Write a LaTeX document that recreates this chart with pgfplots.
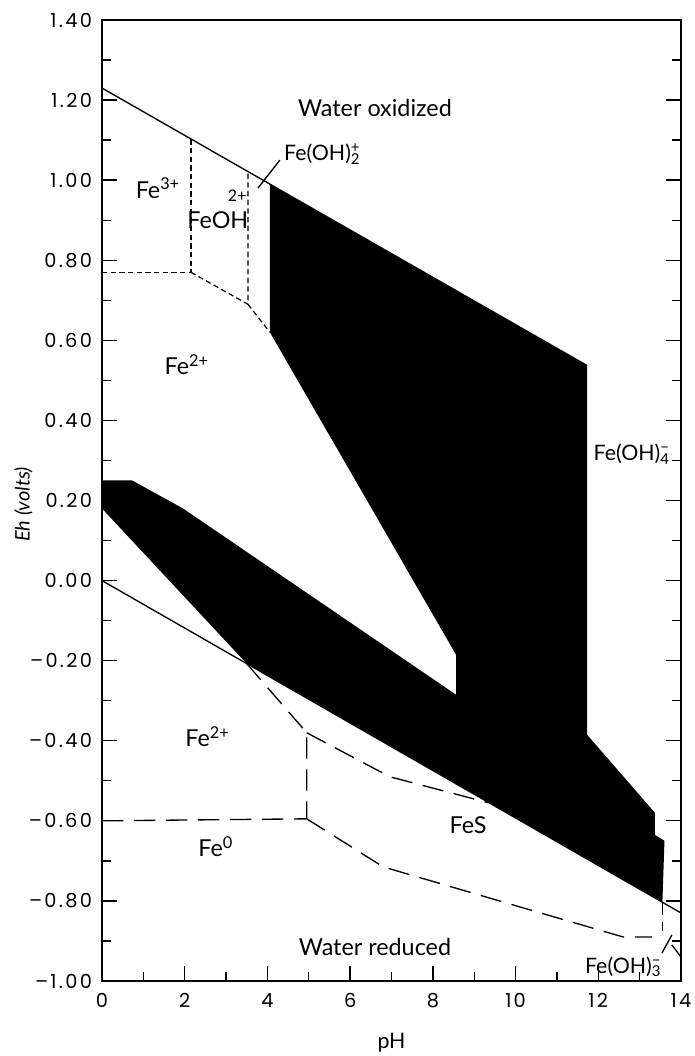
\documentclass[border=0pt]{standalone}
\usepackage{fontspec}
\setmainfont{Lato}
\newfontfamily\tickfont[LetterSpace=12]{Poppins}
\usepackage{pgfplots}
\pgfplotsset{compat=1.18}
\newcommand{\supsub}[2]{\makebox[0pt][l]{\textsuperscript{#2}}\textsubscript{#1}}
\begin{document}
\begin{tikzpicture}
\useasboundingbox (-76.5pt,-56.25pt) rectangle (444pt,735.75pt);
\begin{axis}[
  at={(0,0)}, anchor=south west,
  scale only axis, width=434.25pt, height=720.75pt,
  xmin=0, xmax=14, ymin=-1, ymax=1.4,
  clip=false,
  axis line style={line width=1.3pt},
  xtick={0,2,4,6,8,10,12,14},
  minor xtick={1,3,5,7,9,11,13},
  ytick={-1,-0.8,-0.6,-0.4,-0.2,0,0.2,0.4,0.6,0.8,1,1.2,1.4},
  yticklabels={\textendash1.00,\textendash0.80,\textendash0.60,\textendash0.40,\textendash0.20,0.00,0.20,0.40,0.60,0.80,1.00,1.20,1.40},
  xticklabels={0,2,4,6,8,10,12,14},
  minor ytick={-0.9,-0.7,-0.5,-0.3,-0.1,0.1,0.3,0.5,0.7,0.9,1.1,1.3},
  tick align=inside,
  xtick pos=left, ytick pos=both,
  major tick length=11pt, minor tick length=6.5pt,
  every tick/.style={black, line width=1pt},
  yticklabel style={font=\tickfont\fontsize{14.5}{16}\selectfont, xshift=-4pt},
  xticklabel style={font=\tickfont\fontsize{14.5}{16}\selectfont, yshift=-6pt},
]
% black regions
\addplot[fill=black, draw=none] coordinates {
 (0,0.25) (0.73,0.25) (1.96,0.18) (8.56,-0.285) (8.56,-0.185) (4.06,0.62) (4.06,0.99)
 (11.73,0.537) (11.73,-0.385) (13.37,-0.58) (13.37,-0.635) (13.6,-0.65) (13.55,-0.803)
 (3.5,-0.2075) (0,0.18)} -- cycle;
% water lines
\addplot[black, line width=1pt] coordinates {(0,1.23) (11.73,0.537)};
\addplot[black, line width=1pt] coordinates {(0,0) (14,-0.83)};
% upper short dashed
\addplot[black, line width=0.9pt, dash pattern=on 4pt off 2.5pt] coordinates {(0,0.77) (2.15,0.77) (2.15,1.103)};
\addplot[black, line width=0.9pt, dash pattern=on 4pt off 2.5pt] coordinates {(2.15,0.77) (3.53,0.69) (3.53,1.021)};
\addplot[black, line width=0.9pt, dash pattern=on 4pt off 2.5pt] coordinates {(3.53,0.69) (4.06,0.62)};
% lower long dashed
\addplot[black, line width=1pt, dash pattern=on 16pt off 8pt] coordinates {(3.5,-0.2075) (4.95,-0.38) (4.95,-0.595)};
\addplot[black, line width=1pt, dash pattern=on 16pt off 8pt] coordinates {(0,-0.60) (4.95,-0.595)};
\addplot[black, line width=1pt, dash pattern=on 16pt off 8pt] coordinates {(4.95,-0.38) (6.96,-0.49) (9.35,-0.555)};
\addplot[black, line width=1pt, dash pattern=on 16pt off 8pt] coordinates {(4.95,-0.595) (6.8,-0.715) (10.6,-0.83) (12.6,-0.89) (13.3,-0.89)};
\addplot[black, line width=1pt, dash pattern=on 10pt off 5pt] coordinates {(13.55,-0.803) (13.55,-0.875)};
% small solid lines
\addplot[black, line width=1pt] coordinates {(3.77,0.98) (4.3,1.05)};
\addplot[black, line width=1pt] coordinates {(13.54,-0.93) (13.78,-0.885)};
\addplot[black, line width=1pt] coordinates {(13.78,-0.91) (14,-0.94)};
% labels
\begin{scope}[every node/.style={font=\fontsize{17.5}{19}\selectfont, inner sep=0pt}]
\node at (axis cs:6.6,1.18) {Water oxidized};
\node at (axis cs:1.35,0.98) {Fe\textsuperscript{3+}};
\node at (axis cs:2.8,0.90) {FeOH};
\node[font=\fontsize{12}{13}\selectfont] at (axis cs:3.27,0.96) {2+};
\node[anchor=west, font=\fontsize{16}{18}\selectfont] at (axis cs:4.4,1.065) {Fe(OH)\supsub{2}{+}};
\node at (axis cs:2.05,0.54) {Fe\textsuperscript{2+}};
\node[anchor=west, font=\fontsize{16}{18}\selectfont] at (axis cs:11.88,0.315) {Fe(OH)\supsub{4}{\textminus}};
\node at (axis cs:2.55,-0.39) {Fe\textsuperscript{2+}};
\node at (axis cs:2.75,-0.665) {Fe\textsuperscript{0}};
\node at (axis cs:8.85,-0.61) {FeS};
\node at (axis cs:6.6,-0.915) {Water reduced};
\node[font=\fontsize{16}{18}\selectfont] at (axis cs:12.6,-0.965) {Fe(OH)\supsub{3}{\textminus}};
\node[font=\fontsize{16}{18}\selectfont] at (axis cs:7,-1.155) {pH};
\node[rotate=90, font=\itshape\fontsize{15}{17}\selectfont] at (axis cs:-1.9,0.19) {Eh (volts)};
\end{scope}
\end{axis}
\end{tikzpicture}
\end{document}
